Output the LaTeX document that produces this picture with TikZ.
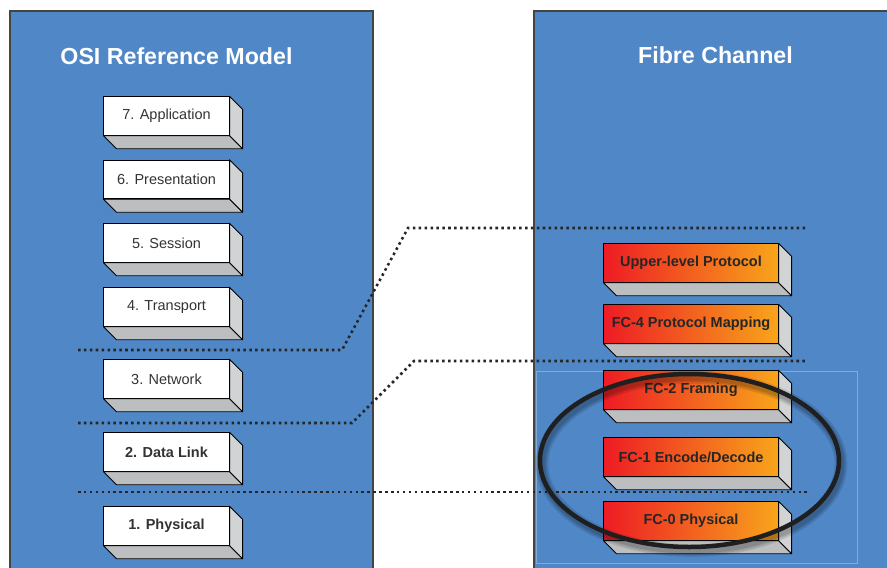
\documentclass[tikz,border=0pt]{standalone}
\usepackage{fontspec}
\setmainfont{Liberation Sans}
\usetikzlibrary{calc,positioning}
\definecolor{panelblue}{HTML}{4F87C7}
\definecolor{panelrule}{HTML}{444444}
\definecolor{sidegray}{HTML}{D1D3D4}
\definecolor{basegray}{HTML}{BCBEC0}
\definecolor{fcred}{HTML}{ED1C24}
\definecolor{fcorange}{HTML}{F8A51B}
\definecolor{inktext}{HTML}{333333}
\tikzset{
  panel/.style={fill=panelblue,draw=panelrule,line width=1.1pt},
  paneltitle/.style={text=white,font=\bfseries\fontsize{16.5}{20}\selectfont},
  layer/.style={draw=black,fill=white,line width=0.7pt,minimum width=3.125cm,
    minimum height=0.9625cm,inner sep=0pt,text=inktext,font=\fontsize{10.3}{12}\selectfont},
  fclayer/.style={layer,minimum width=4.35cm,left color=fcred,right color=fcorange,
    font=\bfseries\fontsize{10.3}{12}\selectfont,text=black!85},
  sideface/.style={fill=sidegray,draw=black,line width=0.7pt,line join=round},
  baseface/.style={fill=basegray,draw=black,line width=0.7pt,line join=round},
  cut/.style={draw=black!85,line width=1.8pt,dash pattern=on 1.8pt off 2.4pt},
}
\begin{document}
\begin{tikzpicture}[x=0.025cm,y=-0.025cm]
  \useasboundingbox (0,0) rectangle (887,567);
  \clip (0,0) rectangle (887,567);
  % panels
  \draw[panel] (10,11) rectangle (373,600);
  \draw[panel] (534,11) rectangle (920,600);
  \node[paneltitle] (osit) at (176.5,56) {OSI Reference Model};
  \node[paneltitle] (fct) at (715.5,55) {Fibre Channel};
  \draw[white!30!panelblue,line width=0.6pt] (536,371) rectangle (857,563);
  % layer boundaries
  \coordinate (a1) at (78,350);  \coordinate (a2) at (342,350);
  \coordinate (a3) at (408,228); \coordinate (a4) at (807,228);
  \coordinate (b1) at (78,423);  \coordinate (b2) at (352,423);
  \coordinate (b3) at (414,361); \coordinate (b4) at (808,361);
  \coordinate (c1) at (78,492);  \coordinate (c4) at (808,492);
  \draw[cut] (a1) -- (a2) -- (a3) -- (a4);
  \draw[cut] (b1) -- (b2) -- (b3) -- (b4);
  \draw[cut] (c1) -- (c4);
  % OSI layers
  \node[layer] (app) at (166.5,116) {7. Application};
  \node[layer] (pre) at (166.5,179.5) {6. Presentation};
  \node[layer] (ses) at (166.5,243) {5. Session};
  \node[layer] (tra) at (166.5,307) {4. Transport};
  \node[layer] (net) at (166.5,379) {3. Network};
  \node[layer] (dat) at (166.5,452) {\textbf{2. Data Link}};
  \node[layer] (phy) at (166.5,526) {\textbf{1. Physical}};
  % FC levels
  \node[fclayer] (fcu) at (691,263) {Upper-level Protocol};
  \node[fclayer] (fc4) at (691,324) {FC-4 Protocol Mapping};
  \node[fclayer] (fc2) at (691,390) {FC-2 Framing};
  \node[fclayer] (fc1) at (691,457) {FC-1 Encode/Decode};
  \node[fclayer] (fc0) at (691,521) {FC-0 Physical};
  \foreach \n in {app,pre,ses,tra,net,dat,phy,fcu,fc4,fc2,fc1,fc0} {
    \filldraw[sideface] (\n.north east) -- ++(13,13) -- ($(\n.south east)+(13,13)$) -- (\n.south east) -- cycle;
    \filldraw[baseface] (\n.south west) -- ++(13,13) -- ($(\n.south east)+(13,13)$) -- (\n.south east) -- cycle;
  }
  % highlight
  \foreach \w in {9pt,6.5pt,4.5pt}
    \draw[black,opacity=0.1,line width=\w] (691.5,464) ellipse [x radius=149.5,y radius=86.5];
  \draw[black!88,line width=3.2pt] (689.5,460.5) ellipse [x radius=149.5,y radius=86.5];
\end{tikzpicture}
\end{document}
